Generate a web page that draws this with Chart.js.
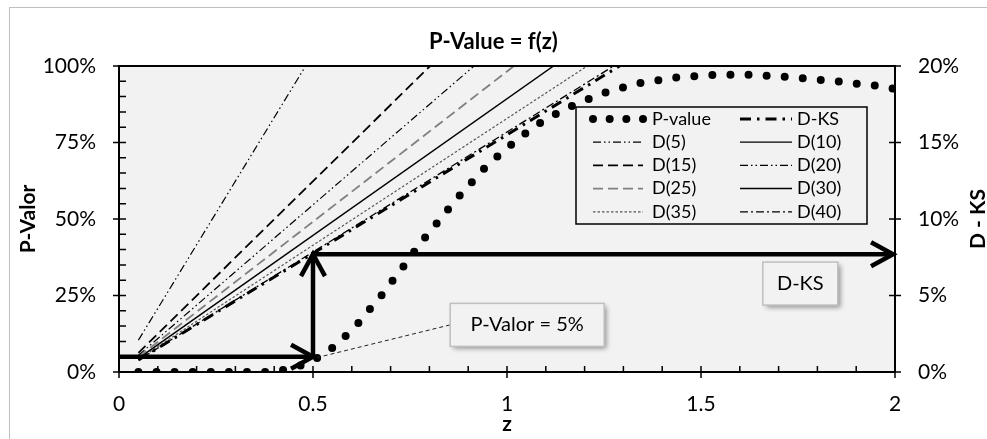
<!DOCTYPE html>
<html>
<head>
<meta charset="utf-8">
<script src="https://cdn.jsdelivr.net/npm/chart.js@4/dist/chart.umd.min.js"></script>
<style>
  html, body { margin: 0; padding: 0; background: #fff; }
  canvas { display: block; }
</style>
</head>
<body>
<canvas id="pvalChart" width="987" height="439"></canvas>
<script>
// P-value curve (left axis, %)
const zP = [0.05, 0.38, 0.42, 0.465, 0.51, 0.55, 0.585, 0.617, 0.647, 0.677, 0.705, 0.733, 0.761,
  0.789, 0.819, 0.849, 0.879, 0.909, 0.942, 0.975, 1.010, 1.048, 1.087, 1.126, 1.168, 1.211,
  1.255, 1.300, 1.345, 1.392, 1.438, 1.485, 1.531, 1.577, 1.624, 1.670, 1.716, 1.763, 1.812,
  1.858, 1.905, 1.951, 2.0];
const pValue = [0, 0, 0.6, 2.0, 4.5, 7.9, 11.9, 16.0, 20.6, 25.1, 29.8, 34.5, 39.3,
  44.0, 48.6, 53.3, 57.8, 62.0, 66.6, 70.4, 74.2, 78.0, 81.5, 84.3, 87.0, 89.2,
  91.4, 93.0, 94.5, 95.4, 96.3, 96.7, 97.1, 97.1, 97.1, 96.8, 96.5, 96.0, 95.4,
  94.9, 94.1, 93.6, 92.5];

// D(n) lines (right axis, %): from z = 0.05 up to where they leave the top at 20%
const dLabels = ['D(5)', 'D(10)', 'D(15)', 'D(20)', 'D(25)', 'D(30)', 'D(35)', 'D(40)'];
const dStartZ = 0.05;
const dStart = [2.08, null, 1.25, 1.09, 0.98, 0.89, 0.83, 0.78];
const dTopZ = [0.481, null, 0.802, 0.915, 1.018, 1.12, 1.207, 1.275];
const dTop = 20;

// D-KS line (right axis, %)
const dksZ = [0.05, 1.29];
const dks = [0.78, 20];

// critical point
const zCrit = 0.5;
const pCrit = 5;
const dCrit = 7.7;

const FONT = 'Lato, "Open Sans", sans-serif';

const dStyles = [
  { color: '#000', width: 1.2, dash: [8, 3, 1.5, 3, 1.5, 3] },
  { color: '#000', width: 1.2, dash: [] },
  { color: '#000', width: 1.8, dash: [10, 5] },
  { color: '#000', width: 1.2, dash: [8, 3, 1.5, 3, 1.5, 3] },
  { color: '#808080', width: 1.8, dash: [10, 5] },
  { color: '#000', width: 1.5, dash: [] },
  { color: '#555', width: 1.2, dash: [2.5, 2] },
  { color: '#000', width: 1.3, dash: [8, 3, 2, 3] },
];

const datasets = [{
  label: 'P-value',
  data: zP.map((z, i) => ({ x: z, y: pValue[i] })),
  yAxisID: 'y',
  borderColor: '#000',
  borderWidth: 8,
  borderDash: [0, 18.1],
  borderCapStyle: 'round',
  pointRadius: 0,
  clip: 0,
}, {
  label: 'D-KS',
  data: dksZ.map((z, i) => ({ x: z, y: dks[i] })),
  yAxisID: 'y2',
  borderColor: '#000',
  borderWidth: 3,
  borderDash: [11, 6, 2.5, 6],
  pointRadius: 0,
  clip: 0,
}];
dLabels.forEach((lab, i) => {
  datasets.push({
    label: lab,
    data: dStart[i] == null ? [] : [{ x: dStartZ, y: dStart[i] }, { x: dTopZ[i], y: dTop }],
    yAxisID: 'y2',
    borderColor: dStyles[i].color,
    borderWidth: dStyles[i].width,
    borderDash: dStyles[i].dash,
    pointRadius: 0,
    clip: 0,
  });
});

function arrow(ctx, x0, y0, x1, y1) {
  const a = Math.atan2(y1 - y0, x1 - x0);
  const len = 25, spread = 0.5;
  ctx.beginPath();
  ctx.moveTo(x0, y0);
  ctx.lineTo(x1, y1);
  ctx.stroke();
  ctx.beginPath();
  ctx.moveTo(x1 - len * Math.cos(a - spread), y1 - len * Math.sin(a - spread));
  ctx.lineTo(x1, y1);
  ctx.lineTo(x1 - len * Math.cos(a + spread), y1 - len * Math.sin(a + spread));
  ctx.stroke();
}

function textBox(ctx, cx, cy, w, h, text) {
  ctx.save();
  ctx.shadowColor = 'rgba(0,0,0,0.4)';
  ctx.shadowBlur = 5;
  ctx.shadowOffsetX = 3;
  ctx.shadowOffsetY = 3;
  ctx.fillStyle = '#f2f2f2';
  ctx.fillRect(cx - w / 2, cy - h / 2, w, h);
  ctx.restore();
  ctx.strokeStyle = '#bfbfbf';
  ctx.lineWidth = 1.5;
  ctx.strokeRect(cx - w / 2, cy - h / 2, w, h);
  ctx.fillStyle = '#000';
  ctx.font = '20px ' + FONT;
  ctx.textAlign = 'center';
  ctx.textBaseline = 'middle';
  ctx.fillText(text, cx, cy);
}

const decor = {
  id: 'decor',
  beforeDraw(chart) {
    const { ctx, chartArea: a } = chart;
    ctx.save();
    ctx.strokeStyle = '#bfbfbf';
    ctx.lineWidth = 1;
    ctx.strokeRect(9.5, 7.5, 1200, 1200);
    ctx.fillStyle = '#f2f2f2';
    ctx.fillRect(a.left, a.top, a.right - a.left, a.bottom - a.top);
    ctx.restore();
  },
  afterDatasetsDraw(chart) {
    const { ctx, chartArea: a, scales: { x, y, y2 } } = chart;
    ctx.save();

    // frame and ticks
    ctx.strokeStyle = '#000';
    ctx.lineWidth = 2;
    ctx.strokeRect(a.left, a.top, a.right - a.left, a.bottom - a.top);
    ctx.lineWidth = 1.5;
    ctx.beginPath();
    for (let v = 0; v <= 100; v += 5) {
      const py = y.getPixelForValue(v);
      ctx.moveTo(v % 25 === 0 ? a.left - 6 : a.left, py);
      ctx.lineTo(a.left + 7, py);
    }
    for (let v = 0; v <= 20; v += 5) {
      const py = y2.getPixelForValue(v);
      ctx.moveTo(a.right - 6, py);
      ctx.lineTo(a.right + 6, py);
    }
    for (let i = 0; i <= 20; i++) {
      const px = x.getPixelForValue(i / 10);
      ctx.moveTo(px, a.bottom - 6);
      ctx.lineTo(px, i % 5 === 0 ? a.bottom + 6 : a.bottom);
    }
    ctx.stroke();

    // leader from the critical point to its label
    const pcx = x.getPixelForValue(1.052), pcy = y.getPixelForValue(15.4);
    ctx.setLineDash([4, 3]);
    ctx.lineWidth = 1;
    ctx.strokeStyle = '#222';
    ctx.beginPath();
    ctx.moveTo(x.getPixelForValue(zCrit + 0.01), y.getPixelForValue(pCrit - 0.3));
    ctx.lineTo(pcx - 77, pcy);
    ctx.stroke();
    ctx.setLineDash([]);

    // arrows: P-value 5% -> z -> D-KS
    ctx.strokeStyle = '#000';
    ctx.lineWidth = 4.5;
    ctx.lineCap = 'butt';
    ctx.lineJoin = 'miter';
    const xc = x.getPixelForValue(zCrit);
    const yp = y.getPixelForValue(pCrit);
    const yd = y2.getPixelForValue(dCrit);
    arrow(ctx, a.left + 1, yp, xc, yp);
    arrow(ctx, xc, yp + 2, xc, yd);
    ctx.beginPath();
    ctx.moveTo(xc - 2, yd);
    ctx.lineTo(xc + 2, yd);
    ctx.stroke();
    arrow(ctx, xc, yd, x.getPixelForValue(2) - 2, yd);

    // labels
    textBox(ctx, pcx, pcy, 154, 43, 'P-Valor = 5%');
    textBox(ctx, x.getPixelForValue(1.756), y.getPixelForValue(28.9), 75, 43, 'D-KS');

    // legend
    const lx0 = 576, ly0 = 107, lx1 = 867, ly1 = 224;
    ctx.fillStyle = '#f2f2f2';
    ctx.fillRect(lx0, ly0, lx1 - lx0, ly1 - ly0);
    ctx.strokeStyle = '#000';
    ctx.lineWidth = 1.5;
    ctx.strokeRect(lx0, ly0, lx1 - lx0, ly1 - ly0);
    const cols = [{ s0: 593, s1: 643, t: 652 }, { s0: 740, s1: 792, t: 797 }];
    ctx.font = '18px ' + FONT;
    ctx.textAlign = 'left';
    ctx.textBaseline = 'middle';
    chart.data.datasets.forEach((ds, i) => {
      const c = cols[i % 2];
      const ry = 119 + Math.floor(i / 2) * 23.2;
      ctx.save();
      ctx.strokeStyle = ds.borderColor;
      ctx.lineWidth = ds.borderWidth;
      if (ds.borderCapStyle === 'round') {
        ctx.lineCap = 'round';
        ctx.setLineDash([0, (c.s1 - c.s0) / 3]);
      } else {
        ctx.setLineDash(ds.borderDash || []);
      }
      ctx.beginPath();
      ctx.moveTo(c.s0, ry);
      ctx.lineTo(c.s1, ry);
      ctx.stroke();
      ctx.restore();
      ctx.fillStyle = '#000';
      ctx.fillText(ds.label, c.t, ry);
    });

    // right axis title, reads bottom to top
    ctx.save();
    ctx.translate(978, (a.top + a.bottom) / 2);
    ctx.rotate(-Math.PI / 2);
    ctx.font = 'bold 21px ' + FONT;
    ctx.textAlign = 'center';
    ctx.textBaseline = 'middle';
    ctx.fillStyle = '#000';
    ctx.fillText('D - KS', 0, 0);
    ctx.restore();

    ctx.restore();
  }
};

new Chart(document.getElementById('pvalChart'), {
  type: 'line',
  data: { datasets },
  options: {
    responsive: false,
    animation: false,
    layout: { padding: 0 },
    plugins: {
      legend: { display: false },
      tooltip: { enabled: false },
      title: {
        display: true,
        text: 'P-Value = f(z)',
        color: '#000',
        font: { family: FONT, size: 22, weight: 'bold' },
        padding: { top: 29, bottom: 10.6 },
      },
    },
    scales: {
      x: {
        type: 'linear',
        min: 0,
        max: 2,
        grid: { display: false, drawTicks: false },
        border: { display: false },
        ticks: {
          stepSize: 0.5,
          padding: 20,
          color: '#000',
          font: { family: FONT, size: 21 },
          callback: v => String(v),
        },
        title: {
          display: true,
          text: 'z',
          color: '#000',
          font: { family: FONT, size: 21, weight: 'bold' },
          padding: { top: 0, bottom: 2 },
        },
        afterFit: s => { s.height = 67; },
      },
      y: {
        position: 'left',
        min: 0,
        max: 100,
        grid: { display: false, drawTicks: false },
        border: { display: false },
        ticks: {
          stepSize: 25,
          padding: 23,
          color: '#000',
          font: { family: FONT, size: 21 },
          callback: v => v + '%',
        },
        title: {
          display: true,
          text: 'P-Valor',
          color: '#000',
          font: { family: FONT, size: 21, weight: 'bold' },
          padding: { top: 16, bottom: 0 },
        },
        afterFit: s => { s.width = 119; },
      },
      y2: {
        position: 'right',
        min: 0,
        max: 20,
        grid: { display: false, drawTicks: false },
        border: { display: false },
        ticks: {
          stepSize: 5,
          padding: 23,
          color: '#000',
          font: { family: FONT, size: 21 },
          callback: v => v + '%',
        },
        afterFit: s => { s.width = 92; },
      },
    },
  },
  plugins: [decor],
});
</script>
</body>
</html>
